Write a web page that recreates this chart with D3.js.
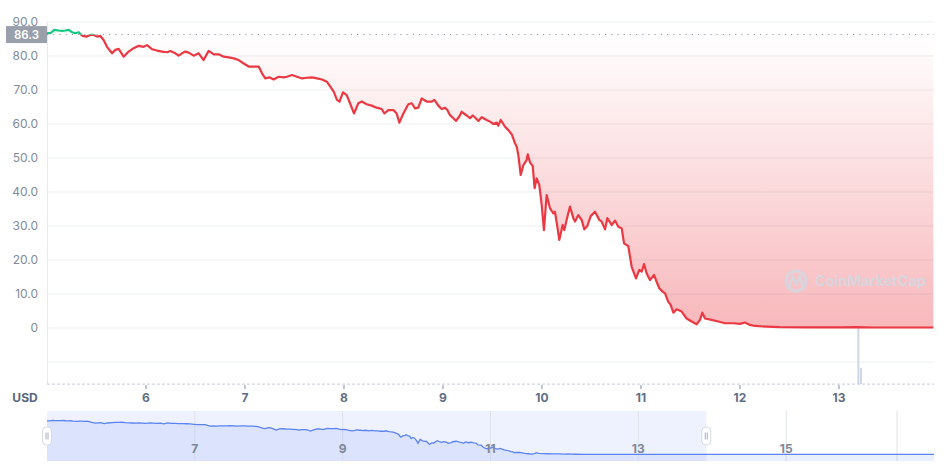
<!DOCTYPE html>
<html><head><meta charset="utf-8">
<script src="https://cdn.jsdelivr.net/npm/d3@7"></script>
<style>body{margin:0;background:#fff;font-family:Inter,"Noto Sans",sans-serif;}svg{display:block}</style>
</head><body><svg id="c" width="951" height="474"></svg>
<script>
const priceDays = [5.000,5.034,5.074,5.118,5.152,5.185,5.219,5.253,5.286,5.320,5.354,5.397,5.438,5.471,5.505,5.539,5.572,5.606,5.657,5.690,5.724,5.774,5.825,5.875,5.926,5.976,6.010,6.061,6.111,6.162,6.212,6.246,6.296,6.330,6.364,6.397,6.431,6.481,6.532,6.582,6.633,6.684,6.734,6.785,6.835,6.886,6.936,6.987,7.037,7.088,7.138,7.172,7.205,7.249,7.290,7.340,7.391,7.424,7.475,7.525,7.576,7.626,7.677,7.727,7.778,7.828,7.862,7.896,7.929,7.955,7.990,8.027,8.061,8.101,8.145,8.179,8.229,8.280,8.330,8.381,8.408,8.448,8.499,8.532,8.559,8.600,8.650,8.684,8.718,8.751,8.785,8.835,8.886,8.913,8.953,8.987,9.021,9.044,9.071,9.105,9.132,9.165,9.189,9.239,9.273,9.300,9.324,9.357,9.391,9.441,9.475,9.509,9.542,9.559,9.583,9.627,9.660,9.694,9.728,9.745,9.761,9.785,9.812,9.845,9.856,9.879,9.906,9.926,9.946,9.973,9.997,10.020,10.047,10.081,10.115,10.131,10.155,10.175,10.209,10.226,10.249,10.283,10.317,10.334,10.367,10.401,10.428,10.458,10.492,10.536,10.579,10.603,10.637,10.660,10.704,10.738,10.771,10.805,10.829,10.872,10.906,10.950,10.983,11.007,11.031,11.057,11.091,11.132,11.158,11.185,11.219,11.243,11.276,11.300,11.327,11.360,11.394,11.411,11.461,11.512,11.562,11.596,11.620,11.647,11.714,11.781,11.849,11.933,12.000,12.051,12.101,12.152,12.269,12.404,12.673,13.010,13.178,13.347,13.953];
const priceValues = [86.7,86.7,87.7,87.5,87.4,87.5,87.7,87.0,86.7,87.0,86.0,85.7,86.2,86.2,85.7,85.9,84.7,82.7,80.8,81.8,82.1,79.8,81.3,82.3,83.0,82.7,83.2,82.0,81.6,81.3,81.1,81.5,80.8,80.1,80.8,81.3,81.0,80.1,80.8,78.8,81.5,80.5,80.5,79.8,79.6,79.3,78.8,77.8,76.9,76.9,76.9,74.9,73.4,73.7,73.1,73.9,73.7,73.9,74.4,73.9,73.4,73.6,73.7,73.4,73.1,72.4,71.0,69.5,67.1,66.6,69.3,68.5,66.1,63.1,66.1,66.6,65.8,65.4,64.8,64.4,63.1,64.1,64.1,63.1,60.4,63.1,65.8,66.1,64.6,64.8,67.5,66.6,66.6,67.1,65.4,64.4,64.8,64.1,62.6,61.7,60.9,62.2,63.6,62.5,61.7,62.5,61.9,60.9,62.0,61.2,60.7,60.0,60.4,59.5,61.2,59.2,58.2,57.0,54.3,53.3,50.9,45.0,47.9,49.4,51.1,48.7,47.7,41.1,44.0,42.1,36.2,28.8,39.1,35.2,33.7,34.2,29.8,25.9,30.3,28.8,31.8,35.7,32.3,31.3,33.2,31.8,29.0,30.0,32.9,34.2,31.8,31.3,29.0,32.3,30.3,31.6,29.8,29.3,24.9,24.1,18.0,14.6,17.1,16.6,18.8,16.1,14.1,15.6,13.6,11.7,10.7,10.2,7.7,6.8,4.5,5.5,5.1,4.8,2.8,1.9,1.1,2.4,4.5,2.8,2.4,1.9,1.4,1.4,1.2,1.6,0.9,0.6,0.4,0.25,0.2,0.2,0.25,0.15,0.15];
const openPrice = 86.3;
const openLabel = "86.3";
const yTickValues = [90,80,70,60,50,40,30,20,10,0];
const yTickLabels = ["90.0","80.0","70.0","60.0","50.0","40.0","30.0","20.0","10.0","0"];
const yGridValues = [90,80,70,60,50,40,30,20,10,0,-10];
const xTickValues = [6,7,8,9,10,11,12,13];
const xTickLabels = ["6","7","8","9","10","11","12","13"];
const navTickValues = [7,9,11,13,15];
const navTickLabels = ["7","9","11","13","15"];
const navGridValues = [7,9,11,13,15,16.5];
const navTailDays = [14.5,15.5,17];
const navTailValues = [0.15,0.15,0.15];
const volumeDays = [13.196,13.222];
const volumeValues = [100,29];
const currencyLabel = "USD";
const watermarkText = "CoinMarketCap";

const RED="#ea3943", GREEN="#16c784";
const svg = d3.select("#c");
const L=47, R=934;
const x = d3.scaleLinear().domain([5,13.96]).range([L,R]);
const y = d3.scaleLinear().domain([0,90]).range([328,22]);
const bottom = y(-16.5);
const vy = d3.scaleLinear().domain([0,100]).range([bottom,328]);
const data = priceDays.map((d,i)=>({d, v:priceValues[i]}));

const defs = svg.append("defs");
const gRed = defs.append("linearGradient").attr("id","gRed").attr("gradientUnits","userSpaceOnUse")
  .attr("x1",0).attr("x2",0).attr("y1",y(openPrice)).attr("y2",y(0));
gRed.append("stop").attr("offset",0).attr("stop-color",RED).attr("stop-opacity",0);
gRed.append("stop").attr("offset",1).attr("stop-color",RED).attr("stop-opacity",0.36);
const gGreen = defs.append("linearGradient").attr("id","gGreen").attr("gradientUnits","userSpaceOnUse")
  .attr("x1",0).attr("x2",0).attr("y1",y(90)).attr("y2",y(openPrice));
gGreen.append("stop").attr("offset",0).attr("stop-color",GREEN).attr("stop-opacity",0.3);
gGreen.append("stop").attr("offset",1).attr("stop-color",GREEN).attr("stop-opacity",0);
defs.append("clipPath").attr("id","above").append("rect").attr("x",L).attr("y",0).attr("width",R-L).attr("height",y(openPrice));
defs.append("clipPath").attr("id","below").append("rect").attr("x",L).attr("y",y(openPrice)).attr("width",R-L).attr("height",bottom-y(openPrice));

// grid
svg.append("g").selectAll("line").data(yGridValues).join("line")
  .attr("x1",L).attr("x2",R).attr("y1",d=>y(d)).attr("y2",d=>y(d))
  .attr("stroke","#eceff3").attr("stroke-width",1);
svg.append("line").attr("x1",L+0.5).attr("x2",L+0.5).attr("y1",y(90)).attr("y2",bottom).attr("stroke","#e6e9ef");
svg.append("line").attr("x1",L).attr("x2",R).attr("y1",bottom).attr("y2",bottom)
  .attr("stroke","#c5cbe0").attr("stroke-dasharray","3,2");

// y labels
svg.append("g").selectAll("text").data(yTickValues).join("text")
  .attr("x",38).attr("y",d=>y(d)).attr("dy",d=>d===90?"0.3em":"0.35em").attr("text-anchor","end")
  .attr("font-size",12).attr("fill","#808a9d").text((d,i)=>yTickLabels[i]);

// x ticks
const xg = svg.append("g");
xg.selectAll("line").data(xTickValues).join("line")
  .attr("x1",d=>x(d)).attr("x2",d=>x(d)).attr("y1",bottom+1).attr("y2",bottom+5).attr("stroke","#808a9d");
xg.selectAll("text").data(xTickValues).join("text")
  .attr("x",d=>x(d)).attr("y",398).attr("dy","0.35em").attr("text-anchor","middle")
  .attr("font-size",12).attr("font-weight",700).attr("fill","#616e85").text((d,i)=>xTickLabels[i]);
svg.append("text").attr("x",25).attr("y",398).attr("dy","0.35em").attr("text-anchor","middle")
  .attr("font-size",12).attr("font-weight",700).attr("fill","#58667e").text(currencyLabel);

// areas
const area = d3.area().x(d=>x(d.d)).y0(y(openPrice)).y1(d=>y(d.v));
svg.append("path").datum(data).attr("d",area).attr("fill","url(#gRed)").attr("clip-path","url(#below)");
svg.append("path").datum(data).attr("d",area).attr("fill","url(#gGreen)").attr("clip-path","url(#above)");

// watermark
const wm = svg.append("g").attr("opacity",0.85);
wm.append("circle").attr("cx",796).attr("cy",281).attr("r",10).attr("fill","none").attr("stroke","#d3d8e2").attr("stroke-width",3);
wm.append("path").attr("d","M789,287 L792.5,276 L796,285 L799.5,276 L803,287").attr("fill","none").attr("stroke","#d3d8e2").attr("stroke-width",2.6).attr("stroke-linejoin","round");
wm.append("text").attr("x",815).attr("y",281).attr("dy","0.36em").attr("font-size",14.5).attr("font-weight",700)
  .attr("fill","#d3d8e2").text(watermarkText);

// baseline dotted
svg.append("line").attr("x1",L).attr("x2",R).attr("y1",y(openPrice)).attr("y2",y(openPrice))
  .attr("stroke","#8f97a6").attr("stroke-width",1).attr("stroke-dasharray","1.2,5");

// volume bars
svg.append("g").selectAll("rect").data(volumeDays).join("rect")
  .attr("x",d=>x(d)-1).attr("width",2).attr("y",(d,i)=>vy(volumeValues[i])).attr("height",(d,i)=>bottom-vy(volumeValues[i]))
  .attr("fill","#cfd6e4");

// lines
const line = d3.line().x(d=>x(d.d)).y(d=>y(d.v));
svg.append("path").datum(data).attr("d",line).attr("fill","none").attr("stroke",RED).attr("stroke-width",2.2).attr("stroke-linejoin","round").attr("clip-path","url(#below)");
svg.append("path").datum(data).attr("d",line).attr("fill","none").attr("stroke",GREEN).attr("stroke-width",2.2).attr("stroke-linejoin","round").attr("clip-path","url(#above)");

// open badge
svg.append("rect").attr("x",6).attr("y",y(openPrice)-8.5).attr("width",41).attr("height",17).attr("fill","#9aa0ab");
svg.append("text").attr("x",26.5).attr("y",y(openPrice)).attr("dy","0.36em").attr("text-anchor","middle")
  .attr("font-size",11.5).attr("font-weight",600).attr("fill","#fff").text(openLabel);

// navigator
const NT=411, NB=461;
const nx = d3.scaleLinear().domain([5,17]).range([L,R]);
const ny = d3.scaleLinear().domain([0,87.7]).range([454.5,420.5]);
const navData = data.concat(navTailDays.map((d,i)=>({d, v:navTailValues[i]})));
const selEnd = nx(x.domain()[1]) - 3;
svg.append("rect").attr("x",L).attr("y",NT).attr("width",selEnd-L).attr("height",NB-NT).attr("fill","#5c84f5").attr("fill-opacity",0.1);
svg.append("g").selectAll("line").data(navGridValues).join("line")
  .attr("x1",d=>nx(d)).attr("x2",d=>nx(d)).attr("y1",NT).attr("y2",NB).attr("stroke","#dde2ea");
const narea = d3.area().x(d=>nx(d.d)).y0(NB).y1(d=>ny(d.v));
svg.append("path").datum(navData).attr("d",narea).attr("fill","#5c84f5").attr("fill-opacity",0.12);
svg.append("path").datum(navData).attr("d",d3.line().x(d=>nx(d.d)).y(d=>ny(d.v))).attr("fill","none").attr("stroke","#5b83f3").attr("stroke-width",1.3);
svg.append("g").selectAll("text").data(navTickValues).join("text")
  .attr("x",d=>nx(d)).attr("y",449).attr("dy","0.35em").attr("text-anchor","middle")
  .attr("font-size",12).attr("font-weight",700).attr("fill","#7f8899").text((d,i)=>navTickLabels[i]);
// handles
[L, selEnd].forEach(hx=>{
  const h = svg.append("g");
  h.append("rect").attr("x",hx-4.5).attr("y",427).attr("width",9).attr("height",18).attr("rx",4)
    .attr("fill","#fff").attr("stroke","#d5dae3");
  h.append("line").attr("x1",hx-1).attr("x2",hx-1).attr("y1",432.5).attr("y2",439.5).attr("stroke","#a6adba");
  h.append("line").attr("x1",hx+1).attr("x2",hx+1).attr("y1",432.5).attr("y2",439.5).attr("stroke","#a6adba");
});
</script></body></html>
